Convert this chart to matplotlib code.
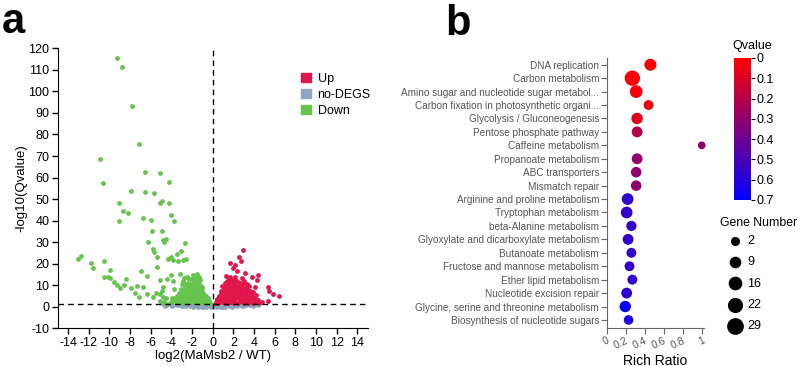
import numpy as np
import matplotlib
matplotlib.use("Agg")
import matplotlib.pyplot as plt
from matplotlib.patches import Patch
from matplotlib.colors import LinearSegmentedColormap, Normalize

plt.rcParams['font.family'] = ['Liberation Sans', 'DejaVu Sans']
plt.rcParams['axes.unicode_minus'] = False

## volcano data (log2 fold change, -log10 q)
down_pts = [
    (-9.29, 115.3), (-8.8, 111.5), (-7.84, 93.3), (-7.1, 75.4), (-10.9, 68.7),
    (-10.6, 57.4), (-6.55, 62.5), (-5.1, 61.9), (-4.26, 57.7), (-7.94, 53.7),
    (-6.58, 53.4), (-5.71, 52.8), (-4.9, 49.2), (-5.06, 48.0), (-4.19, 48.3),
    (-9.1, 48.1), (-8.65, 44.6), (-8.2, 43.7), (-9.03, 39.6), (-6.7, 41.3),
    (-5.99, 40.2), (-4.06, 42.6), (-3.77, 39.8), (-5.87, 35.1), (-4.87, 35.3),
    (-6.23, 30.2), (-4.77, 31.0), (-4.55, 31.3), (-4.68, 30.0), (-2.65, 29.6),
    (-5.74, 26.6), (-5.71, 25.2), (-3.06, 26.0), (-3.48, 24.3), (-5.42, 22.9),
    (-4.29, 22.4), (-4.06, 22.9), (-3.81, 21.8), (-3.39, 21.4), (-2.9, 21.8),
    (-2.61, 22.1), (-12.74, 23.7), (-13.0, 22.1), (-11.8, 20.1), (-11.6, 17.8),
    (-10.5, 21.4), (-9.94, 17.0), (-10.1, 13.9), (-10.5, 13.9), (-9.94, 13.3),
    (-9.55, 11.6), (-9.29, 10.2), (-8.97, 8.7), (-8.39, 12.7), (-8.58, 10.2),
    (-7.94, 8.7), (-7.52, 6.2), (-7.35, 9.8), (-6.9, 16.4), (-6.77, 9.0),
    (-6.39, 14.2), (-6.39, 5.9), (-5.74, 4.6), (-5.48, 6.2), (-5.1, 5.9),
    (-4.77, 4.6), (-4.52, 4.3), (-5.42, 18.3), (-5.1, 12.4), (-4.84, 9.3),
    (-4.45, 12.7), (-4.06, 14.9), (-3.87, 12.1), (-3.74, 8.2), (-3.97, 4.3),
    (-3.16, 15.2), (-3.0, 10.5), (-4.94, 7.4), (-7.1, 4.6), (-5.1, 2.8),
    (-4.71, 2.0), (-4.45, 1.5),
    # dense cluster
    (-3.4, 3.2), (-3.2, 5.1), (-3.0, 2.4), (-2.9, 7.0), (-2.8, 4.1), (-2.7, 9.2),
    (-2.6, 2.1), (-2.5, 6.3), (-2.4, 11.0), (-2.4, 3.5), (-2.3, 8.1), (-2.2, 5.0),
    (-2.2, 12.8), (-2.1, 2.6), (-2.0, 9.7), (-2.0, 6.8), (-1.9, 3.9), (-1.9, 14.6),
    (-1.8, 11.4), (-1.8, 7.6), (-1.7, 5.2), (-1.7, 2.3), (-1.6, 13.2), (-1.6, 9.0),
    (-1.5, 6.1), (-1.5, 3.4), (-1.4, 11.0), (-1.4, 7.8), (-1.3, 4.6), (-1.3, 2.1),
    (-1.2, 9.3), (-1.2, 6.0), (-1.1, 3.1), (-1.0, 7.7), (-1.0, 4.8), (-0.9, 2.4),
    (-0.9, 6.2), (-0.8, 3.8), (-0.7, 5.1), (-0.7, 2.0), (-0.6, 3.3), (-0.5, 4.2),
    (-0.5, 1.8), (-0.4, 2.6), (-0.3, 1.9), (-2.6, 10.5), (-3.1, 8.4), (-3.3, 6.5),
    (-3.6, 4.0), (-3.8, 2.6), (-2.9, 12.0), (-2.5, 14.0), (-1.5, 15.0), (-1.2, 12.5),
    (-2.75, 13.3), (-3.5, 1.8), (-4.0, 2.2), (-2.1, 4.3), (-1.6, 4.0), (-1.1, 5.5),
    (-2.4, 1.9), (-1.85, 2.2), (-1.4, 1.9), (-0.9, 1.7), (-2.95, 1.8), (-3.2, 3.9),
    (-2.65, 5.7), (-2.05, 8.5), (-1.55, 10.2), (-1.05, 9.0), (-0.75, 4.3),
    (-0.55, 2.9), (-1.75, 12.3), (-2.3, 9.6), (-1.95, 5.9), (-1.35, 5.8),
    (-0.95, 3.6), (-2.75, 3.1), (-3.7, 3.2),
    (-3.35, 2.5), (-3.05, 3.6), (-2.85, 5.6), (-2.55, 4.5), (-2.45, 7.6),
    (-2.15, 6.0), (-2.15, 10.6), (-1.95, 12.9), (-1.65, 11.6), (-1.45, 8.8),
    (-1.25, 7.0), (-1.15, 4.2), (-0.85, 5.0), (-0.65, 3.9), (-0.45, 3.3),
    (-0.35, 2.2), (-1.05, 2.5), (-1.55, 2.9), (-2.05, 3.0), (-2.55, 2.8),
    (-3.15, 2.2), (-1.8, 9.5), (-2.35, 13.5), (-1.35, 13.8), (-1.65, 7.0),
    (-2.25, 4.0), (-0.8, 2.9), (-1.95, 10.4), (-2.7, 7.8), (-3.45, 5.2),
    (-1.25, 10.0), (-0.6, 4.8),
]

up_pts = [
    (2.97, 26.5), (2.58, 22.9), (1.68, 20.3), (2.19, 19.5), (2.71, 21.4),
    (1.94, 17.8), (2.32, 16.7), (1.29, 14.2), (1.68, 13.6), (3.13, 15.5),
    (4.42, 14.9), (4.32, 12.4), (3.77, 13.6), (4.1, 9.3), (5.39, 9.4),
    (5.48, 7.1), (5.87, 5.9), (6.45, 5.0), (5.39, 2.8), (4.74, 2.0),
    (4.32, 3.1), (4.0, 4.3), (3.29, 10.5), (3.61, 7.4),
    # dense cluster
    (0.3, 1.8), (0.4, 3.0), (0.5, 2.2), (0.6, 4.5), (0.7, 2.8), (0.8, 6.0),
    (0.8, 3.6), (0.9, 2.0), (1.0, 7.5), (1.0, 4.8), (1.1, 3.0), (1.1, 9.0),
    (1.2, 6.2), (1.2, 2.2), (1.3, 10.5), (1.3, 4.0), (1.4, 7.8), (1.5, 5.3),
    (1.5, 2.6), (1.6, 9.6), (1.6, 3.7), (1.7, 11.5), (1.7, 6.8), (1.8, 4.6),
    (1.8, 2.0), (1.9, 8.8), (1.9, 10.8), (2.0, 6.0), (2.0, 3.2), (2.1, 11.2),
    (2.1, 7.9), (2.2, 5.0), (2.2, 2.4), (2.3, 9.4), (2.3, 3.9), (2.4, 7.0),
    (2.5, 10.2), (2.5, 5.6), (2.6, 3.1), (2.6, 8.4), (2.7, 6.2), (2.8, 9.3),
    (2.8, 4.2), (2.9, 2.2), (3.0, 7.4), (3.0, 5.2), (3.1, 3.4), (3.2, 8.6),
    (3.2, 6.0), (3.3, 2.5), (3.4, 4.4), (3.5, 6.8), (3.6, 3.0), (3.7, 5.2),
    (3.8, 2.1), (3.9, 3.8), (4.1, 2.6), (4.3, 2.0), (4.5, 1.7), (0.55, 1.6),
    (1.45, 1.8), (2.45, 1.8), (3.45, 1.7), (1.05, 5.8), (1.55, 7.2), (2.05, 9.0),
    (2.65, 11.0), (2.35, 12.0), (1.85, 12.4), (1.35, 12.0), (2.95, 10.6),
    (3.55, 9.8), (3.9, 7.0), (4.2, 5.5), (0.65, 5.2), (1.25, 8.4), (1.75, 4.1),
    (2.25, 6.6), (2.75, 2.9), (3.25, 4.7), (0.9, 9.6), (1.15, 11.0), (3.05, 12.0),
    (2.85, 13.5),
    (0.35, 2.4), (0.45, 3.8), (0.75, 5.0), (0.95, 3.3), (1.05, 6.6), (1.25, 5.1),
    (1.35, 3.1), (1.45, 9.1), (1.65, 5.8), (1.75, 8.0), (1.95, 4.0), (2.15, 10.0),
    (2.35, 5.5), (2.45, 8.2), (2.55, 4.4), (2.75, 7.3), (2.95, 4.8), (3.15, 6.9),
    (3.35, 3.5), (3.45, 8.0), (3.65, 4.5), (3.85, 5.8), (4.05, 3.5), (4.35, 3.0),
    (0.85, 7.3), (1.55, 10.8), (2.05, 12.5), (2.6, 9.6), (3.35, 9.2), (1.9, 6.9),
    (1.15, 1.9), (2.05, 1.9), (3.05, 1.9), (3.95, 1.9), (1.6, 12.9), (2.2, 13.6),
]

nodeg_pts = [
    (-4.8, 1.2), (-4.5, 0.9), (-4.2, 1.1), (-4.0, 0.7), (-3.8, 1.0), (-3.5, 0.6),
    (-3.3, 0.9), (-3.0, 0.5), (-2.8, 0.8), (-2.6, 0.4), (-2.4, 0.9), (-2.2, 0.3),
    (-2.0, 0.7), (-1.8, 0.2), (-1.6, 0.6), (-1.4, 0.1), (-1.2, 0.5), (-1.0, 0.0),
    (-0.8, 0.4), (-0.6, -0.1), (-0.4, 0.3), (-0.2, 0.0), (0.0, -0.3), (0.2, 0.2),
    (0.4, -0.1), (0.6, 0.4), (0.8, 0.0), (1.0, 0.5), (1.2, 0.1), (1.4, 0.6),
    (1.6, 0.2), (1.8, 0.7), (2.0, 0.3), (2.2, 0.8), (2.4, 0.4), (2.6, 0.9),
    (2.8, 0.5), (3.0, 1.0), (3.2, 0.6), (3.4, 1.1), (3.6, 0.7), (3.8, 1.2),
    (4.0, 0.9), (4.2, 1.3), (-3.9, 0.3), (-2.9, 0.2), (-1.9, 0.0), (-0.9, -0.2),
    (0.9, -0.2), (1.9, 0.0), (2.9, 0.2), (3.9, 0.4), (-4.6, 0.5), (4.4, 0.8),
]

q_cut = 1.3

## KEGG enrichment data
pathways = [
    "DNA replication", "Carbon metabolism",
    "Amino sugar and nucleotide sugar metabol...",
    "Carbon fixation in photosynthetic organi...",
    "Glycolysis / Gluconeogenesis", "Pentose phosphate pathway",
    "Caffeine metabolism", "Propanoate metabolism", "ABC transporters",
    "Mismatch repair", "Arginine and proline metabolism",
    "Tryptophan metabolism", "beta-Alanine metabolism",
    "Glyoxylate and dicarboxylate metabolism", "Butanoate metabolism",
    "Fructose and mannose metabolism", "Ether lipid metabolism",
    "Nucleotide excision repair", "Glycine, serine and threonine metabolism",
    "Biosynthesis of nucleotide sugars",
]
rich_ratio = [0.46, 0.27, 0.31, 0.44, 0.32, 0.32, 1.0, 0.32, 0.31, 0.31,
              0.22, 0.21, 0.26, 0.225, 0.26, 0.24, 0.27, 0.21, 0.195, 0.23]
gene_num = [15, 29, 18, 8, 13, 11, 2, 11, 10, 10,
            14, 14, 9, 11, 8, 8, 8, 11, 13, 7]
qvalue = [0.01, 0.02, 0.03, 0.04, 0.08, 0.2, 0.3, 0.3, 0.3, 0.3,
          0.56, 0.56, 0.56, 0.56, 0.56, 0.56, 0.56, 0.57, 0.68, 0.62]
legend_genes = [2, 9, 16, 22, 29]


def gene_size(n):
    d_px = np.sqrt(46 + 6.5 * np.asarray(n, dtype=float))
    return (d_px * 0.72) ** 2


c_up = '#E0174B'
c_no = '#8FA6BE'
c_down = '#66C44E'

fig = plt.figure(figsize=(8, 3.66), dpi=100)

## panel a
ax = fig.add_axes([0.0721, 0.103, 0.3875, 0.765])
nx, ny = np.array(nodeg_pts).T
dx, dy = np.array(down_pts).T
ux, uy = np.array(up_pts).T
ax.scatter(nx, ny, s=12, c=c_no, linewidths=0, zorder=2)
ax.scatter(dx, dy, s=12, c=c_down, linewidths=0, zorder=3)
ax.scatter(ux, uy, s=12, c=c_up, linewidths=0, zorder=3)
ax.axvline(0, color='black', ls=(0, (4, 3)), lw=1, zorder=4)
ax.axhline(q_cut, color='black', ls=(0, (4, 3)), lw=1, zorder=4)
ax.set_xlim(-15, 15)
ax.set_ylim(-10, 120)
ax.set_xticks(np.arange(-14, 15, 2))
ax.set_yticks(np.arange(-10, 121, 10))
ax.tick_params(labelsize=9, length=4, width=1, direction='out', pad=2)
for s in ['top', 'right']:
    ax.spines[s].set_visible(False)
ax.set_xlabel('log2(MaMsb2 / WT)', fontsize=9.5, labelpad=1)
ax.set_ylabel('-log10(Qvalue)', fontsize=9.5, labelpad=1)
handles = [Patch(color=c_up, label='Up'), Patch(color=c_no, label='no-DEGS'),
           Patch(color=c_down, label='Down')]
ax.legend(handles=handles, loc='upper left', bbox_to_anchor=(0.77, 0.93),
          frameon=False, fontsize=9, handlelength=0.8, handleheight=0.8,
          handletextpad=0.5, labelspacing=0.3, borderaxespad=0)

fig.text(0.002, 0.91, 'a', fontsize=30, fontweight='bold', ha='left', va='baseline')
fig.text(0.556, 0.905, 'b', fontsize=30, fontweight='bold', ha='left', va='baseline')

## panel b
cmap = LinearSegmentedColormap.from_list('rb', ['#FF0000', '#0000FF'])
norm = Normalize(vmin=0, vmax=0.7)
bx = fig.add_axes([0.7584, 0.1038, 0.1211, 0.7377])
yy = np.arange(len(pathways))
sc = bx.scatter(rich_ratio, yy, s=gene_size(gene_num), c=qvalue, cmap=cmap,
                norm=norm, linewidths=0, zorder=3, clip_on=False)
bx.set_ylim(len(pathways) - 0.4, -0.5)
bx.set_xlim(0, 1.02)
bx.set_yticks(yy)
bx.set_yticklabels(pathways, fontsize=7.2, color='#555555')
bx.set_xticks([0, 0.2, 0.4, 0.6, 0.8, 1.0])
bx.set_xticklabels(['0', '0.2', '0.4', '0.6', '0.8', '1'], fontsize=7.5,
                   color='#555555', rotation=25, ha='right', rotation_mode='anchor')
bx.tick_params(length=4, width=0.8, color='#666666', pad=1.5)
for s in ['top', 'right']:
    bx.spines[s].set_visible(False)
for s in ['left', 'bottom']:
    bx.spines[s].set_color('#666666')
bx.set_xlabel('Rich Ratio', fontsize=10, labelpad=2)

cax = fig.add_axes([0.9175, 0.4536, 0.021, 0.388])
cb = fig.colorbar(sc, cax=cax, ticks=np.arange(0, 0.71, 0.1))
cax.invert_yaxis()
cb.outline.set_visible(False)
cb.set_ticklabels(['0', '0.1', '0.2', '0.3', '0.4', '0.5', '0.6', '0.7'])
cax.tick_params(labelsize=9, length=3, width=0.8, pad=1)
fig.text(0.94, 1 - 46 / 366, 'Qvalue', fontsize=9, ha='center', va='center')

fig.text(0.948, 1 - 223 / 366, 'Gene Number', fontsize=8.8, ha='center', va='center')
g_handles = [bx.scatter([], [], s=gene_size(n), c='black') for n in legend_genes]
fig.legend(g_handles, [str(n) for n in legend_genes],
           loc='upper left', bbox_to_anchor=(0.907, 0.358), frameon=False,
           fontsize=9, labelspacing=0.75, handlelength=1.5, handletextpad=0.25,
           borderaxespad=0, borderpad=0)

fig.savefig('out.png', dpi=100)
